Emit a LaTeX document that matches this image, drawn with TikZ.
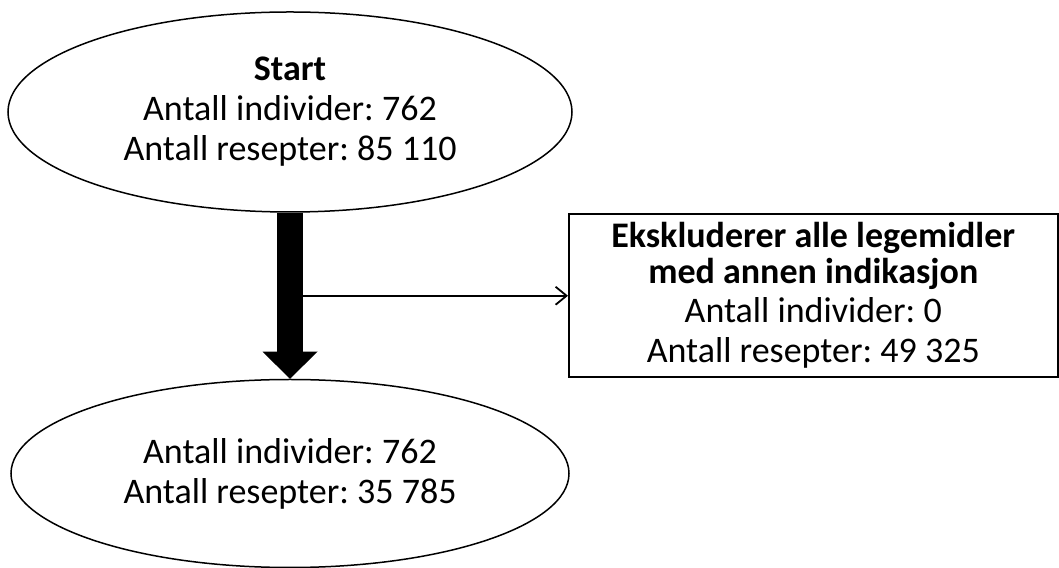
\documentclass[tikz,border=0pt]{standalone}
\usepackage{fontspec}
\setmainfont{Carlito}
\usetikzlibrary{positioning,calc,shapes.geometric,arrows.meta}
\frenchspacing

\tikzset{
    oval/.style={ellipse, draw, line width=1.5pt, inner sep=0pt, align=center,
        font=\fontsize{36}{40}\selectfont},
    exclbox/.style={rectangle, draw, line width=1.5pt, inner sep=0pt, align=center,
        minimum width=489pt, minimum height=163pt, font=\fontsize{36}{40}\selectfont},
    flow/.style={line width=26pt, -{Triangle[width=55pt,length=27pt,line width=0pt]}},
    side/.style={line width=1.8pt, -{Straight Barb[length=11pt,width=18pt]}}
}

\begin{document}
\begin{tikzpicture}[x=1pt,y=1pt]
    \useasboundingbox (0,0) rectangle (1059,567);

    % Define nodes
    \node[oval, minimum width=564pt, minimum height=200pt] (start) at (290,455)
        {\textbf{Start}\\Antall individer: 762\\Antall resepter: 85 110};
    \node[oval, minimum width=558pt, minimum height=188pt, below = 166pt of start] (rest)
        {Antall individer: 762\\Antall resepter: 35 785};

    % split point on the thick arrow
    \coordinate[xshift=13pt] (split) at ($(start.south)!0.5!(rest.north)$);
    \node[exclbox, right = 265pt of split] (excl)
        {\textbf{Ekskluderer alle legemidler}\\[-4pt]\textbf{med annen indikasjon}\\[-1pt]Antall individer: 0\\Antall resepter: 49 325};

    % Connect nodes
    \draw[flow] (start.south) -- (rest.north);
    \draw[side] (split) -- (excl.west);
\end{tikzpicture}
\end{document}
